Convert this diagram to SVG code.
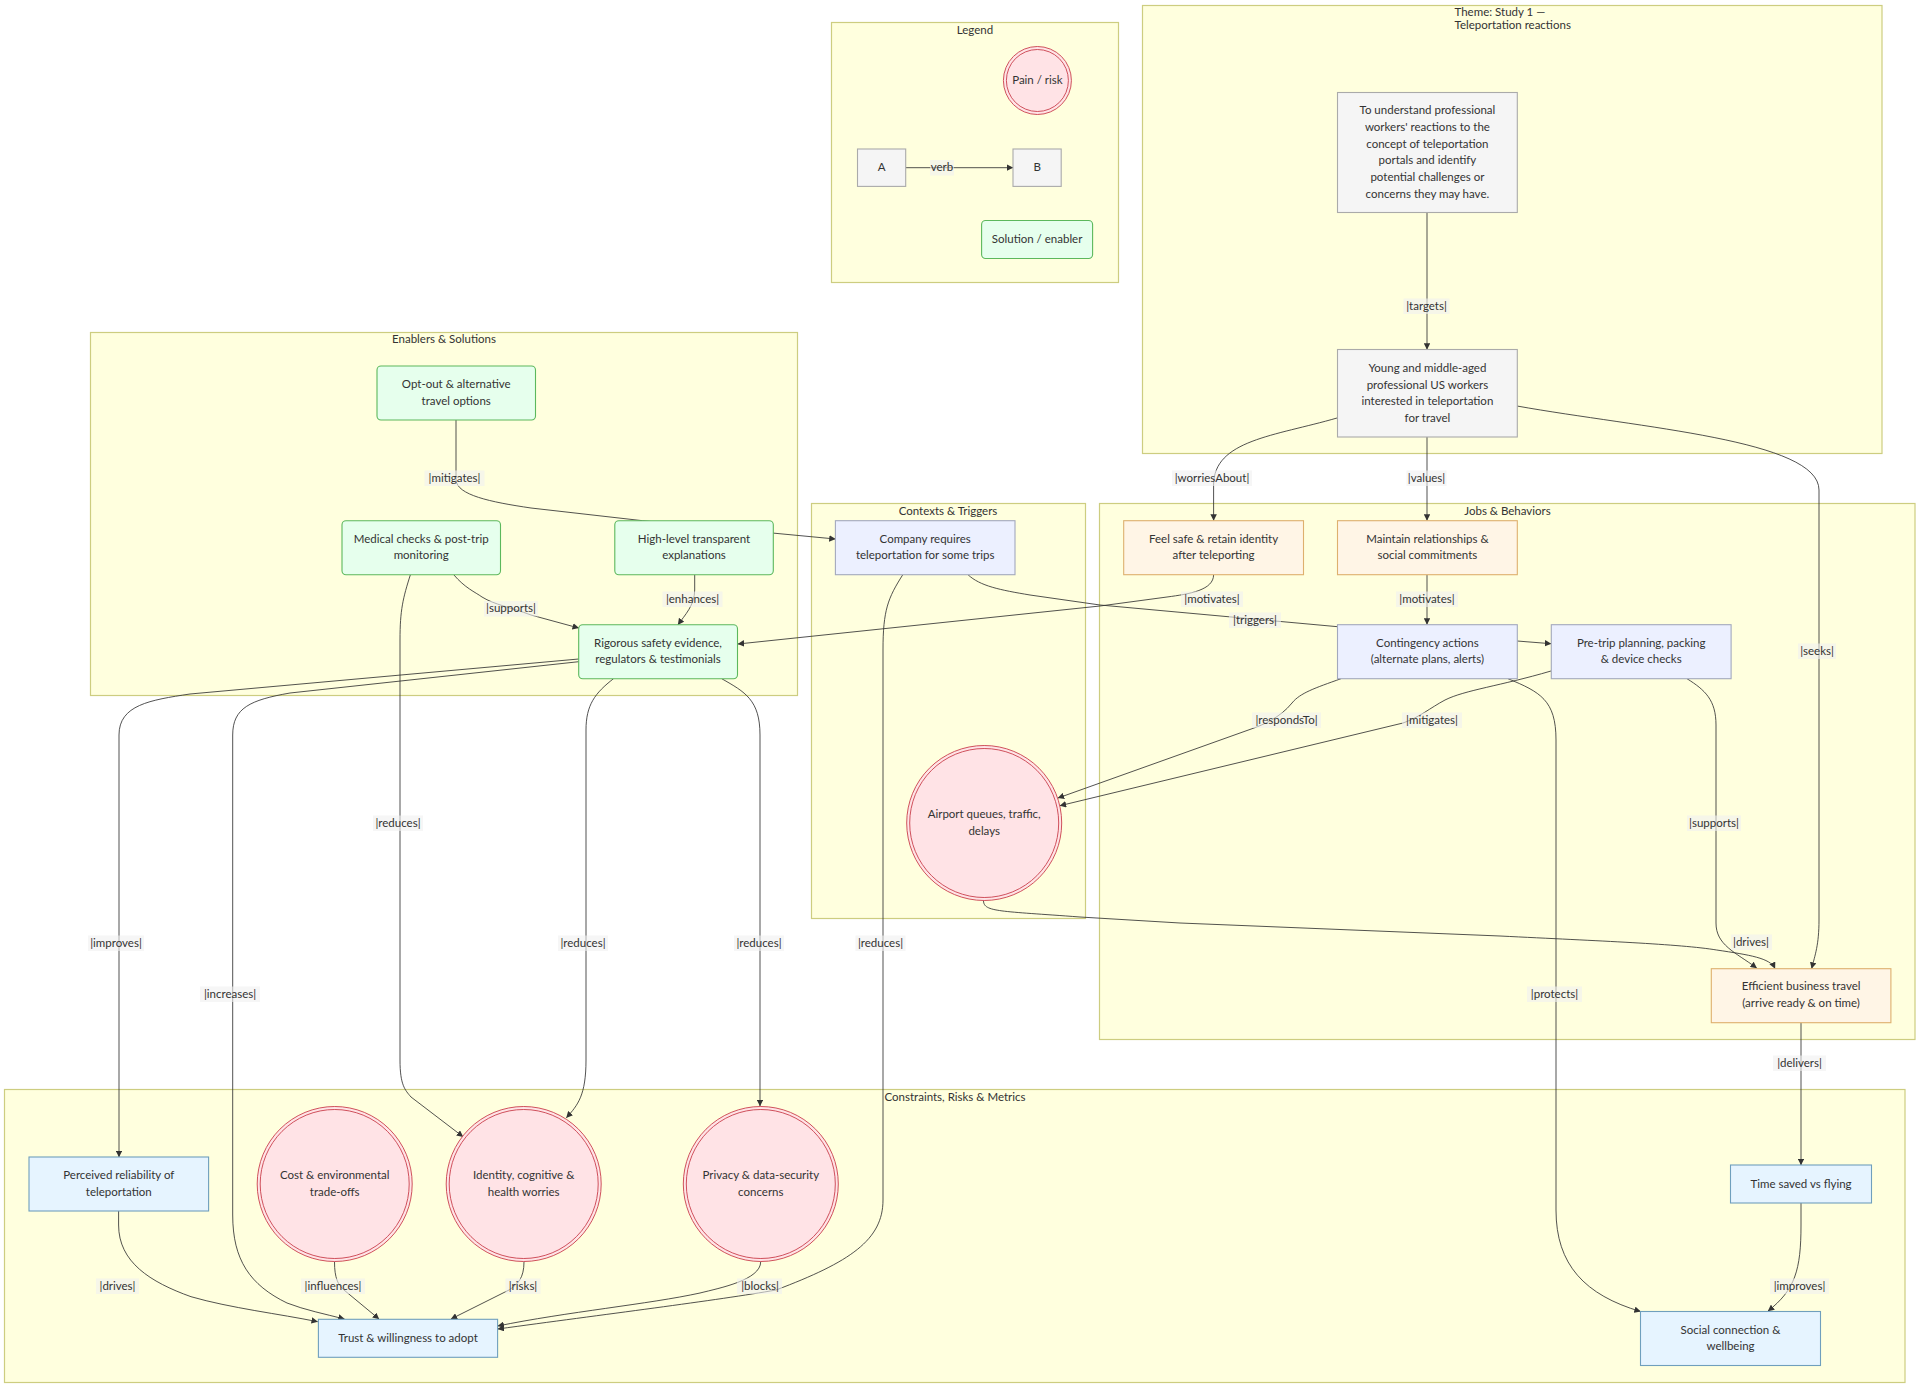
<svg xmlns="http://www.w3.org/2000/svg" width="1920" height="1388" viewBox="0 0 1920 1388">
<style>
text{font-family:"Lato","Liberation Sans",sans-serif;font-size:11.5px;fill:#333;text-anchor:middle;dominant-baseline:central;transform:translateY(-.7px)}
.cl{fill:#ffffde;stroke:#cdcd80;stroke-width:1.2}
.n{stroke-width:1.1}
.neutral{fill:#f5f5f5;stroke:#aaa}
.sol{fill:#e6ffed;stroke:#5cb85c}
.job{fill:#fff5e6;stroke:#deb06e}
.act{fill:#ecf0ff;stroke:#a3a8bd}
.met{fill:#e6f4ff;stroke:#6f9fbd}
.pain{fill:#ffe3e6;stroke:#c9404c;stroke-width:.9}
.pain2{fill:none;stroke:#c9404c;stroke-width:.9}
.e{fill:none;stroke:#333;stroke-width:.85;marker-end:url(#arrow)}
.lb{fill:#f0f0f0;fill-opacity:.6}
</style>
<defs><marker id="arrow" viewBox="0 0 10 10" refX="9.5" refY="5" markerWidth="6.5" markerHeight="6.5" markerUnits="userSpaceOnUse" orient="auto"><path d="M0,0L10,5L0,10z" fill="#333"/></marker></defs>

<g id="clusters">
<g id="cluster-legend"><rect class="cl" x="831.5" y="22.5" width="287" height="260"/><text x="975" y="30">Legend</text></g>
<g id="cluster-theme"><rect class="cl" x="1142.5" y="5.5" width="739.5" height="448"/><text x="1454.5" y="12" style="text-anchor:start">Theme: Study 1 —</text><text x="1454.5" y="25" style="text-anchor:start">Teleportation reactions</text></g>
<g id="cluster-enablers"><rect class="cl" x="90.5" y="332.5" width="707" height="363"/><text x="444" y="339">Enablers &amp; Solutions</text></g>
<g id="cluster-contexts"><rect class="cl" x="811.5" y="503.5" width="274" height="415"/><text x="948" y="511">Contexts &amp; Triggers</text></g>
<g id="cluster-jobs"><rect class="cl" x="1099.5" y="503.5" width="815.5" height="536"/><text x="1507.5" y="511">Jobs &amp; Behaviors</text></g>
<g id="cluster-constraints"><rect class="cl" x="4.5" y="1089.5" width="1900.5" height="293"/><text x="955" y="1097">Constraints, Risks &amp; Metrics</text></g>
</g>

<g id="connectors">
<path class="e" d="M905.7,167.7L1013,167.7"/>
<path class="e" d="M1427,212.5L1427,349.5"/>
<path class="e" d="M1337,418C1275,436 1213.6,440 1213.6,485L1213.6,520.5"/>
<path class="e" d="M1427,437L1427,520.5"/>
<path class="e" d="M1517,406C1640,428 1819,440 1819,490L1819,920C1819,945 1815,955 1811.7,968.5"/>
<path class="e" d="M1427,574.7L1427,624.5"/>
<path class="e" d="M1213.6,574.7C1213.6,590 1190,594 1167,597L1100,606L738,644"/>
<path class="e" d="M968,574.7C980,586 1000,590 1030,595L1100,605L1337.5,626.7L1551,643.7"/>
<path class="e" d="M1341,678.7C1315,688 1300,693 1292,703C1280,718 1262,725 1254,728L1058,798"/>
<path class="e" d="M1551,671C1500,686 1465,690 1445,700C1430,708 1420,717 1403,723L1060,805.7"/>
<path class="e" d="M1508,678.7C1540,692 1556,700 1556,740L1556,1210C1556,1265 1585,1295 1640.5,1311.5"/>
<path class="e" d="M1687,678.7C1705,690 1716,700 1716,725L1716,923C1716,945 1735,952 1756.7,968"/>
<path class="e" d="M983.5,901C984,912 1000,911 1080,917L1180,923L1500,936C1600,941 1680,944 1716.7,950C1750,955 1770,958 1775,968.5"/>
<path class="e" d="M1801,1022.7L1801,1165"/>
<path class="e" d="M1801,1203L1801,1225C1801,1270 1795,1290 1768,1311"/>
<path class="e" d="M456,420L456,480C457,495 490,502 531,508L642.5,520.7L835.4,539"/>
<path class="e" d="M453.7,574.7C465,588 475,592 482,597C495,605 510,607 531,615L578.7,628"/>
<path class="e" d="M410.4,574.7C403,598 400,610 400,640L400,1060C400,1085 405,1090 411,1097L463,1136.7"/>
<path class="e" d="M694.7,574.7L694.7,590C694.7,605 685,615 678,624.7"/>
<path class="e" d="M578.7,659L190,694C150,700 119,705 119,735L119,1157"/>
<path class="e" d="M578.7,661.7L290,693C250,700 232.7,708 232.7,735L232.7,1215C232.7,1260 250,1285 287,1303C305,1310 325,1314 344.4,1319"/>
<path class="e" d="M613.5,678.7C595,693 586,705 586,730L586,1060C586,1095 578,1105 566.4,1117.7"/>
<path class="e" d="M721.7,678.7C745,692 760,700 760,735L760,1106"/>
<path class="e" d="M902.8,574.7C888,598 883,610 883,650L883,1200C883,1240 850,1262 776,1290C720,1300 600,1315 497.8,1329"/>
<path class="e" d="M118.6,1211L118.6,1225C118.6,1262 150,1282 191,1296.7C230,1308 280,1314 317.6,1321.7"/>
<path class="e" d="M334.5,1261.7C334.5,1278 338,1285 344,1290L379,1319"/>
<path class="e" d="M524,1261.7C524,1278 518,1284 509,1290L451,1319"/>
<path class="e" d="M760.7,1261.7C760.7,1280 720,1288 700,1293C650,1304 566,1312 497.8,1326"/>
</g>

<g id="edge-labels">
<rect class="lb" x="930" y="160" width="24" height="15.5"/><text x="942" y="167.7">verb</text>
<rect class="lb" x="1403.5" y="298.5" width="46" height="15.5"/><text x="1426.5" y="306">|targets|</text>
<rect class="lb" x="1172" y="470.5" width="80" height="15.5"/><text x="1212" y="478">|worriesAbout|</text>
<rect class="lb" x="1406.5" y="470.5" width="40" height="15.5"/><text x="1426.5" y="478">|values|</text>
<rect class="lb" x="1798" y="643.5" width="38" height="15.5"/><text x="1817" y="651">|seeks|</text>
<rect class="lb" x="1181" y="591.5" width="62" height="15.5"/><text x="1212" y="599">|motivates|</text>
<rect class="lb" x="1396" y="591.5" width="62" height="15.5"/><text x="1427" y="599">|motivates|</text>
<rect class="lb" x="1229" y="612.5" width="52" height="15.5"/><text x="1255" y="620">|triggers|</text>
<rect class="lb" x="1252" y="712.5" width="69" height="15.5"/><text x="1286.5" y="720">|respondsTo|</text>
<rect class="lb" x="1402" y="712.5" width="60" height="15.5"/><text x="1432" y="720">|mitigates|</text>
<rect class="lb" x="1687" y="815.5" width="54" height="15.5"/><text x="1714" y="823">|supports|</text>
<rect class="lb" x="1731" y="934.5" width="41" height="15.5"/><text x="1751" y="942">|drives|</text>
<rect class="lb" x="1527" y="986.5" width="55" height="15.5"/><text x="1554.5" y="994">|protects|</text>
<rect class="lb" x="1773" y="1055.5" width="53" height="15.5"/><text x="1799.5" y="1063">|delivers|</text>
<rect class="lb" x="1770" y="1278.5" width="59" height="15.5"/><text x="1799.5" y="1286">|improves|</text>
<rect class="lb" x="424.5" y="470.5" width="60" height="15.5"/><text x="454.5" y="478">|mitigates|</text>
<rect class="lb" x="484" y="601" width="54" height="15.5"/><text x="511" y="608.7">|supports|</text>
<rect class="lb" x="662.5" y="591.5" width="60" height="15.5"/><text x="692.5" y="599.3">|enhances|</text>
<rect class="lb" x="373" y="815.5" width="50" height="15.5"/><text x="398" y="823">|reduces|</text>
<rect class="lb" x="88" y="935.5" width="56" height="15.5"/><text x="116" y="943">|improves|</text>
<rect class="lb" x="200" y="986.5" width="60" height="15.5"/><text x="230" y="994">|increases|</text>
<rect class="lb" x="558" y="935.5" width="50" height="15.5"/><text x="583" y="943">|reduces|</text>
<rect class="lb" x="734" y="935.5" width="50" height="15.5"/><text x="759" y="943">|reduces|</text>
<rect class="lb" x="855.5" y="935.5" width="50" height="15.5"/><text x="880.5" y="943">|reduces|</text>
<rect class="lb" x="96" y="1278.5" width="43" height="15.5"/><text x="117.5" y="1286">|drives|</text>
<rect class="lb" x="301" y="1278.5" width="64" height="15.5"/><text x="333" y="1286">|influences|</text>
<rect class="lb" x="505.5" y="1278.5" width="35" height="15.5"/><text x="523" y="1286">|risks|</text>
<rect class="lb" x="737" y="1278.5" width="45" height="15.5"/><text x="760" y="1286">|blocks|</text>
</g>

<g id="nodes">
<g id="pain-legend"><circle class="pain" cx="1037.4" cy="80.5" r="34"/><circle class="pain2" cx="1037.4" cy="80.5" r="31"/><text x="1037.4" y="80.5">Pain / risk</text></g>
<g id="a"><rect class="n neutral" x="857.5" y="149" width="48.2" height="37.4"/><text x="881.6" y="167.7">A</text></g>
<g id="b"><rect class="n neutral" x="1013" y="149" width="48.2" height="37.4"/><text x="1037.1" y="167.7">B</text></g>
<g id="solution-legend"><rect class="n sol" x="981.6" y="220.5" width="111" height="38" rx="4"/><text x="1037.1" y="239.5">Solution / enabler</text></g>
<g id="objective"><rect class="n neutral" x="1337.5" y="92.5" width="179.8" height="120"/><text x="1427.4" y="110.7">To understand professional</text><text x="1427.4" y="127.3">workers' reactions to the</text><text x="1427.4" y="144">concept of teleportation</text><text x="1427.4" y="160.6">portals and identify</text><text x="1427.4" y="177.3">potential challenges or</text><text x="1427.4" y="194">concerns they may have.</text></g>
<g id="users"><rect class="n neutral" x="1337.5" y="349.5" width="179.8" height="87.5"/><text x="1427.4" y="368.3">Young and middle-aged</text><text x="1427.4" y="385">professional US workers</text><text x="1427.4" y="401.6">interested in teleportation</text><text x="1427.4" y="418.3">for travel</text></g>
<g id="optout"><rect class="n sol" x="377" y="366" width="158.5" height="54" rx="4"/><text x="456.2" y="384.3">Opt-out &amp; alternative</text><text x="456.2" y="401">travel options</text></g>
<g id="medical"><rect class="n sol" x="342" y="520.7" width="158.5" height="54" rx="4"/><text x="421.2" y="539">Medical checks &amp; post-trip</text><text x="421.2" y="555.7">monitoring</text></g>
<g id="explain"><rect class="n sol" x="614.8" y="520.7" width="158.5" height="54" rx="4"/><text x="694" y="539">High-level transparent</text><text x="694" y="555.7">explanations</text></g>
<g id="evidence"><rect class="n sol" x="578.7" y="624.7" width="158.8" height="54" rx="4"/><text x="658" y="643">Rigorous safety evidence,</text><text x="658" y="659.7">regulators &amp; testimonials</text></g>
<g id="company"><rect class="n act" x="835.4" y="520.7" width="179.6" height="54"/><text x="925.2" y="539">Company requires</text><text x="925.2" y="555.7">teleportation for some trips</text></g>
<g id="airport"><circle class="pain" cx="984.2" cy="823" r="77.5"/><circle class="pain2" cx="984.2" cy="823" r="74.5"/><text x="984.2" y="814.7">Airport queues, traffic,</text><text x="984.2" y="831.4">delays</text></g>
<g id="feel"><rect class="n job" x="1123.7" y="520.7" width="179.8" height="54"/><text x="1213.6" y="539">Feel safe &amp; retain identity</text><text x="1213.6" y="555.7">after teleporting</text></g>
<g id="maintain"><rect class="n job" x="1337.5" y="520.7" width="179.8" height="54"/><text x="1427.4" y="539">Maintain relationships &amp;</text><text x="1427.4" y="555.7">social commitments</text></g>
<g id="contingency"><rect class="n act" x="1337.5" y="624.7" width="179.8" height="54"/><text x="1427.4" y="643">Contingency actions</text><text x="1427.4" y="659.7">(alternate plans, alerts)</text></g>
<g id="pretrip"><rect class="n act" x="1551.3" y="624.7" width="179.8" height="54"/><text x="1641.2" y="643">Pre-trip planning, packing</text><text x="1641.2" y="659.7">&amp; device checks</text></g>
<g id="efficient"><rect class="n job" x="1711.3" y="968.7" width="179.6" height="54"/><text x="1801.1" y="986.3">Efficient business travel</text><text x="1801.1" y="1003">(arrive ready &amp; on time)</text></g>
<g id="perceived"><rect class="n met" x="29" y="1157" width="179.6" height="54"/><text x="118.8" y="1175.3">Perceived reliability of</text><text x="118.8" y="1192">teleportation</text></g>
<g id="cost"><circle class="pain" cx="334.7" cy="1184" r="77.5"/><circle class="pain2" cx="334.7" cy="1184" r="74.5"/><text x="334.7" y="1175.3">Cost &amp; environmental</text><text x="334.7" y="1192">trade-offs</text></g>
<g id="identity"><circle class="pain" cx="523.7" cy="1184" r="77.5"/><circle class="pain2" cx="523.7" cy="1184" r="74.5"/><text x="523.7" y="1175.3">Identity, cognitive &amp;</text><text x="523.7" y="1192">health worries</text></g>
<g id="privacy"><circle class="pain" cx="760.8" cy="1184" r="77.5"/><circle class="pain2" cx="760.8" cy="1184" r="74.5"/><text x="760.8" y="1175.3">Privacy &amp; data-security</text><text x="760.8" y="1192">concerns</text></g>
<g id="trust"><rect class="n met" x="318.4" y="1319.3" width="179.2" height="38"/><text x="408" y="1338.3">Trust &amp; willingness to adopt</text></g>
<g id="timesaved"><rect class="n met" x="1730.5" y="1165" width="141" height="38"/><text x="1801" y="1184">Time saved vs flying</text></g>
<g id="social"><rect class="n met" x="1640.5" y="1311.5" width="180" height="54"/><text x="1730.5" y="1330">Social connection &amp;</text><text x="1730.5" y="1346.7">wellbeing</text></g>
</g>
</svg>
